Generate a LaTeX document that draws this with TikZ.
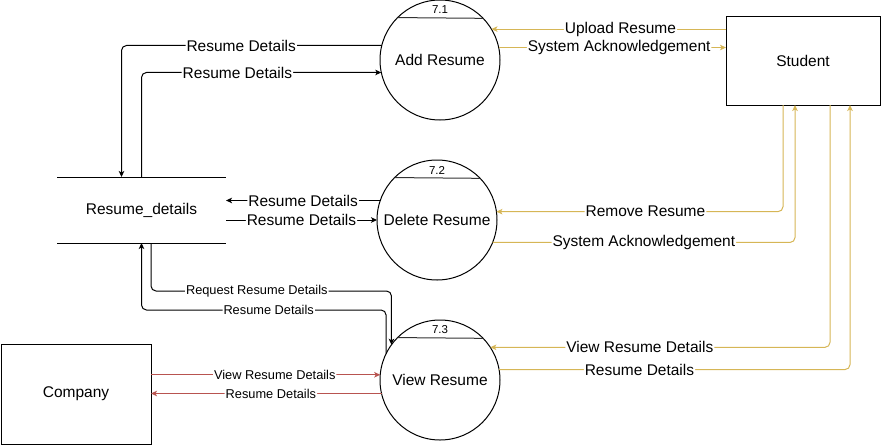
\documentclass[tikz,border=0pt]{standalone}
\usepackage{fontspec}
\setmainfont{Liberation Sans}
\usetikzlibrary{arrows.meta,calc}
\definecolor{goldline}{HTML}{D6B656}
\definecolor{redline}{HTML}{B85450}

\begin{document}
\begin{tikzpicture}[%
  x=1pt, y=-1pt,
  >={Stealth[length=6pt,width=5.5pt,inset=1.5pt]},
  process/.style={circle, draw, line width=1pt, minimum size=120pt, inner sep=0pt,
    outer sep=0pt, font=\fontsize{15.5}{18}\selectfont},
  entity/.style={rectangle, draw, line width=1pt, outer sep=0pt,
    font=\fontsize{15.5}{18}\selectfont},
  datastore/.style={minimum width=169pt, minimum height=66pt, inner sep=0pt,
    outer sep=0pt, font=\fontsize{15.5}{18}\selectfont},
  flow/.style={line width=1pt, rounded corners=5pt, ->},
  studentflow/.style={flow, draw=goldline},
  companyflow/.style={flow, draw=redline},
  lbl/.style={fill=white, inner sep=1pt, font=\fontsize{15.5}{18}\selectfont},
  smalllbl/.style={lbl, font=\fontsize{12.8}{15}\selectfont},
  num/.style={inner sep=0pt, font=\fontsize{11.5}{13}\selectfont}]

\useasboundingbox (0,0) rectangle (881,445);

\node[process] (add) at (440,60) {Add Resume};
\node[process] (del) at (437,220) {Delete Resume};
\node[process] (view) at (440,380) {View Resume};
\node[entity, minimum width=154pt, minimum height=89pt] (student) at (803,60.5) {Student};
\node[entity, minimum width=150pt, minimum height=100pt] (company) at (76,394) {Company};
\node[datastore] (store) at (141.5,210) {Resume\_details};
\draw[line width=1pt] (store.north west) -- (store.north east)
  (store.south west) -- (store.south east);

\foreach \p/\n in {add/7.1, del/7.2, view/7.3} {
  \draw[line width=1pt, black!80] (\p.135.6) -- (\p.44.4);
  \node[num] (\p-num) at ($(\p.center)+(0,-50)$) {\n};
}

\draw[flow] (add.166.5) -| node[lbl, pos=0.27] {Resume Details} ([xshift=-20pt]store.north);
\draw[flow] (store.north) |- node[lbl, pos=0.70] {Resume Details} (add.192.5);

\draw[studentflow] (student.west |- add.31.1) -- node[lbl, pos=0.45] {Upload Resume} (add.31.1);
\draw[studentflow] (add.12.5) -- node[lbl, pos=0.53] {System Acknowledgement} (add.12.5 -| student.west);

\draw[studentflow] ([xshift=-20pt]student.south) |- node[lbl, pos=0.74] {Remove Resume} (del.8.6);
\draw[studentflow] (del.-22.5) -| node[lbl, pos=0.25] {System Acknowledgement} ([xshift=-8pt]student.south);

\draw[studentflow] ([xshift=27pt]student.south) |- node[lbl, pos=0.78] {View Resume Details} (view.33);
\draw[studentflow] (view.10.6) -| node[lbl, pos=0.2] {Resume Details} ([xshift=47pt]student.south);

\draw[flow] (del.161.5) -- node[lbl] {Resume Details} (del.161.5 -| store.east);
\draw[flow] (store.east |- del.west) -- node[lbl] {Resume Details} (del.west);

\draw[flow] ([xshift=9.5pt]store.south) -- ++(0,48) -| node[smalllbl, pos=0.22] {Request Resume Details} (view.144.8);
\draw[flow] (view.154.2) |- node[smalllbl, pos=0.74] {Resume Details} ([yshift=-67pt]store.south) -- (store.south);

\draw[companyflow] (company.east |- view.175.2) -- node[smalllbl, pos=0.54] {View Resume Details} (view.175.2);
\draw[companyflow] (view.193.5) -- node[smalllbl, pos=0.48] {Resume Details} (view.193.5 -| company.east);
\end{tikzpicture}
\end{document}
